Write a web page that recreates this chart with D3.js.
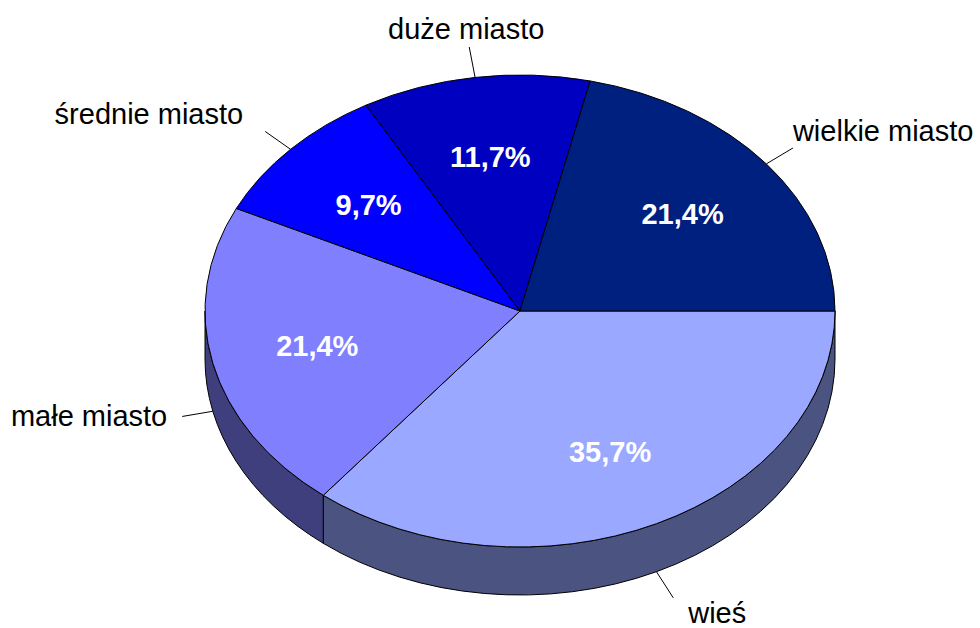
<!DOCTYPE html>
<html>
<head>
<meta charset="utf-8">
<script src="https://cdn.jsdelivr.net/npm/d3@7"></script>
<style>
  html, body { margin: 0; padding: 0; background: #fff; }
  svg { display: block; font-family: "Liberation Sans", Arial, sans-serif; }
</style>
</head>
<body>
<svg id="chart"></svg>
<script>
// data (order as drawn, clockwise from 3 o'clock)
var categories = ["wieś", "małe miasto", "średnie miasto", "duże miasto", "wielkie miasto"];
var shares = [35.7, 21.4, 9.7, 11.7, 21.4];
var labels = ["35,7%", "21,4%", "9,7%", "11,7%", "21,4%"];
var topColors = ["#9aa9ff", "#8080ff", "#0000ff", "#0000c0", "#002080"];
var sideColors = ["#4b5380", "#3f3f7d", "#000080", "#000060", "#001040"];

var width = 980, height = 628;
var cx = 520, cy = 311, rx = 315, ry = 236, depth = 48;

var svg = d3.select("#chart").attr("width", width).attr("height", height);

// ellipse scales: unit circle -> screen
var x = d3.scaleLinear().domain([-1, 1]).range([cx - rx, cx + rx]);
var y = d3.scaleLinear().domain([-1, 1]).range([cy - ry, cy + ry]);

function pt(a, r, dz) {
    return [x(r * Math.sin(a)), y(-r * Math.cos(a)) + (dz || 0)];
}

var pie = d3.pie().sort(null).value(d => d)
    .startAngle(Math.PI / 2).endAngle(Math.PI / 2 + 2 * Math.PI);
var arcs = pie(shares);

// side walls - only the front half (between 3 and 9 o'clock, through 6)
var sides = svg.append("g");
arcs.forEach(function (d, i) {
    var a0 = Math.max(d.startAngle, Math.PI / 2);
    var a1 = Math.min(d.endAngle, 3 * Math.PI / 2);
    if (a1 <= a0) return;
    var p0 = pt(a0, 1), p1 = pt(a1, 1);
    var q0 = pt(a0, 1, depth), q1 = pt(a1, 1, depth);
    var path = "M" + p0 + "A" + rx + "," + ry + " 0 0 1 " + p1 +
        "L" + q1 + "A" + rx + "," + ry + " 0 0 0 " + q0 + "Z";
    sides.append("path")
        .attr("d", path)
        .attr("fill", sideColors[i])
        .attr("stroke", "#000")
        .attr("stroke-width", 1)
        .attr("stroke-linejoin", "round");
});

// top slices
var tops = svg.append("g");
arcs.forEach(function (d, i) {
    var p0 = pt(d.startAngle, 1), p1 = pt(d.endAngle, 1);
    var large = (d.endAngle - d.startAngle) > Math.PI ? 1 : 0;
    var path = "M" + cx + "," + cy + "L" + p0 +
        "A" + rx + "," + ry + " 0 " + large + " 1 " + p1 + "Z";
    tops.append("path")
        .attr("d", path)
        .attr("fill", topColors[i])
        .attr("stroke", "#000")
        .attr("stroke-width", 1)
        .attr("stroke-linejoin", "round");
});

// percentage labels inside
svg.append("g").selectAll("text")
    .data(arcs)
    .enter()
    .append("text")
    .attr("x", d => pt((d.startAngle + d.endAngle) / 2, 0.66)[0])
    .attr("y", d => pt((d.startAngle + d.endAngle) / 2, 0.66)[1])
    .attr("dy", "0.36em")
    .attr("text-anchor", "middle")
    .attr("fill", "#fff")
    .attr("font-weight", "bold")
    .attr("font-size", "29px")
    .text((d, i) => labels[i]);

// category labels with leader lines
var outer = svg.append("g");
arcs.forEach(function (d, i) {
    var a = (d.startAngle + d.endAngle) / 2;
    var s = Math.sin(a), c = -Math.cos(a);
    var front = c > 0;
    var start = pt(a, 1, front ? depth : 0);
    var ux = s * rx, uy = c * ry, len = Math.sqrt(ux * ux + uy * uy);
    ux /= len; uy /= len;
    var end = [start[0] + ux * 31, start[1] + uy * 31];
    outer.append("line")
        .attr("x1", start[0]).attr("y1", start[1])
        .attr("x2", end[0]).attr("y2", end[1])
        .attr("stroke", "#000").attr("stroke-width", 1);

    var tx, ty, anchor;
    if (Math.abs(ux) < 0.3 && uy < 0) {          // top
        anchor = "middle"; tx = end[0] - 3; ty = end[1] - 8;
    } else if (uy > 0.6) {                       // bottom
        anchor = "start"; tx = end[0] + 15; ty = end[1] + 25;
    } else if (ux > 0) {                         // right
        anchor = "start"; tx = end[0]; ty = end[1] + (uy < 0 ? -7 : 10);
    } else {                                     // left
        anchor = "end"; tx = end[0] - (uy < 0 ? 22 : 15); ty = end[1] + (uy < 0 ? -7 : 10);
    }
    outer.append("text")
        .attr("x", tx).attr("y", ty)
        .attr("text-anchor", anchor)
        .attr("font-size", "29px")
        .attr("fill", "#000")
        .text(categories[i]);
});
</script>
</body>
</html>
